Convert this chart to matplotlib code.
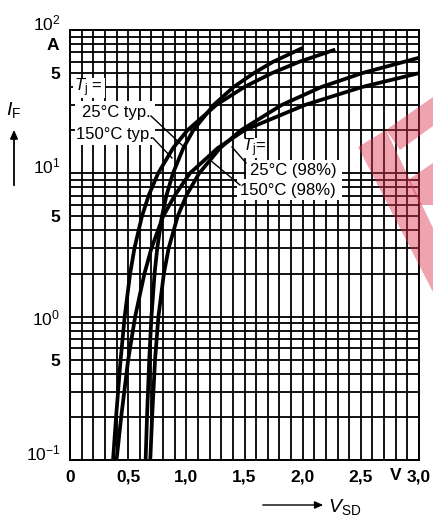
import matplotlib
matplotlib.use("Agg")
import matplotlib.pyplot as plt
import matplotlib.transforms as mtransforms
from matplotlib.patches import Polygon, FancyArrowPatch, Rectangle

# ---------- data ----------
i_25_typ = [0.1, 0.2, 0.5, 1, 2, 3, 5, 7, 10, 15, 20, 30, 40, 50, 60, 75]
v_25_typ = [0.65, 0.662, 0.681, 0.70, 0.727, 0.75, 0.79, 0.829, 0.885, 0.974, 1.06,
            1.235, 1.406, 1.58, 1.745, 2.0]

i_150_typ = [0.1, 0.2, 0.5, 1, 2, 3, 5, 7, 10, 15, 20, 30, 40, 50, 60, 73]
v_150_typ = [0.37, 0.396, 0.435, 0.47, 0.517, 0.554, 0.618, 0.676, 0.757, 0.886, 1.01,
             1.257, 1.498, 1.735, 1.97, 2.28]

i_25_98 = [0.1, 0.2, 0.5, 1, 2, 3, 5, 7, 10, 15, 20, 30, 40, 50, 64]
v_25_98 = [0.69, 0.706, 0.731, 0.76, 0.807, 0.848, 0.925, 1.0, 1.11, 1.29, 1.47,
           1.82, 2.16, 2.51, 3.0]

i_150_98 = [0.1, 0.2, 0.5, 1, 2, 3, 5, 7, 10, 15, 20, 30, 40, 50]
v_150_98 = [0.40, 0.44, 0.50, 0.56, 0.64, 0.70, 0.80, 0.90, 1.03, 1.27, 1.50,
            2.02, 2.51, 3.0]

x_ticks = [0, 0.5, 1.0, 1.5, 2.0, 2.5, 3.0]
x_labels = ["0", "0,5", "1,0", "1,5", "2,0", "2,5", "3,0"]
y_ticks = [0.1, 0.5, 1, 5, 10, 50, 100]
y_labels = [r"$10^{-1}$", "5", r"$10^{0}$", "5", r"$10^{1}$", "5", r"$10^{2}$"]

plt.rcParams["font.family"] = ["Liberation Sans", "DejaVu Sans"]
plt.rcParams["mathtext.fontset"] = "custom"
plt.rcParams["mathtext.rm"] = "Liberation Sans"
plt.rcParams["mathtext.it"] = "Liberation Sans:italic"
plt.rcParams["mathtext.bf"] = "Liberation Sans:bold"

W, H = 433, 525
X0, X1, Y0, Y1 = 70, 419, 30, 460   # plot box in image pixels


def ax_pos(x, y):
    """image pixel -> axes fraction"""
    return (x - X0) / (X1 - X0), (Y1 - y) / (Y1 - Y0)


def fig_pos(x, y):
    return x / W, 1 - y / H


def blank(ax, x_a, y_a, x_b, y_b):
    """white patch that hides the grid behind the labels (image pixel corners)"""
    (u0, v0), (u1, v1) = ax_pos(x_a, y_b), ax_pos(x_b, y_a)
    ax.add_patch(Rectangle((u0, v0), u1 - u0, v1 - v0, transform=ax.transAxes,
                           facecolor="white", edgecolor="none", zorder=3))


fig = plt.figure(figsize=(W / 100, H / 100), dpi=100)
ax = fig.add_axes([X0 / W, 1 - Y1 / H, (X1 - X0) / W, (Y1 - Y0) / H])

ax.set_yscale("log")
ax.set_xlim(0, 3.0)
ax.set_ylim(0.1, 100)

# grid: 0.1 V verticals, 1..9 per decade horizontals
ax.set_xticks(x_ticks)
ax.set_xticklabels(x_labels)
ax.set_xticks([k / 10 for k in range(31)], minor=True)
ax.set_yticks(y_ticks)
ax.set_yticklabels(y_labels)
ax.set_yticks([m * 10.0 ** e for e in (-1, 0, 1) for m in range(1, 10)] + [100], minor=True)
ax.yaxis.set_minor_formatter(matplotlib.ticker.NullFormatter())
ax.grid(True, which="both", color="black", linewidth=1.3)
ax.tick_params(which="both", length=0, labelsize=12.5, pad=7)
for lbl in ax.get_xticklabels() + ax.get_yticklabels():
    lbl.set_fontweight("bold")
for sp in ax.spines.values():
    sp.set_linewidth(1.4)
    sp.set_zorder(7)

# nudge the power-of-ten labels up a bit, like the print
up = mtransforms.ScaledTranslation(0, 6 / 72, fig.dpi_scale_trans)
for lbl, t in zip(ax.get_yticklabels(), y_ticks):
    if t in (0.1, 10, 100):
        lbl.set_transform(lbl.get_transform() + up)

# curves
for v, i in [(v_25_typ, i_25_typ), (v_150_typ, i_150_typ),
             (v_25_98, i_25_98), (v_150_98, i_150_98)]:
    ax.plot(v, i, color="black", linewidth=2.7, solid_capstyle="butt", zorder=4)

# unit labels
ax.text(-0.03, 78, "A", transform=mtransforms.blended_transform_factory(ax.transAxes, ax.transData),
        ha="right", va="center", fontsize=12.5, fontweight="bold")
ax.text(2.8, -0.037, "V", transform=mtransforms.blended_transform_factory(ax.transData, ax.transAxes),
        ha="center", va="center", fontsize=12.5, fontweight="bold")

txt = dict(transform=ax.transAxes, fontsize=12, va="center", ha="left", zorder=6)

# left annotation group
blank(ax, 73, 78, 105, 98)
blank(ax, 75, 101, 155, 145)
ax.text(*ax_pos(74, 88), r"$T_\mathrm{j}$ =", **txt)
ax.text(*ax_pos(82, 113), "25°C typ.", **txt)
ax.text(*ax_pos(76, 135), "150°C typ.", **txt)
for (xa, ya), (xb, yb) in [((151, 116), (184, 147)), ((153, 138), (172, 158))]:
    ax.plot(*zip(ax_pos(xa, ya), ax_pos(xb, yb)), transform=ax.transAxes,
            color="black", linewidth=1.0, zorder=5)

# right annotation group
blank(ax, 240, 138, 266, 158)
blank(ax, 246, 160, 342, 179)
blank(ax, 237, 179, 342, 200)
ax.text(*ax_pos(242, 148), r"$T_\mathrm{j}$=", **txt)
ax.text(*ax_pos(250, 170), "25°C (98%)", **txt)
ax.text(*ax_pos(240, 190), "150°C (98%)", **txt)
for (xa, ya), (xb, yb) in [((246, 163), (232, 147)), ((240, 185), (210, 160))]:
    ax.plot(*zip(ax_pos(xa, ya), ax_pos(xb, yb)), transform=ax.transAxes,
            color="black", linewidth=1.0, zorder=5)

# axis titles with arrows
fig.text(*fig_pos(14, 110), r"$I_\mathrm{F}$", ha="center", va="center", fontsize=14)
fig.add_artist(FancyArrowPatch(
    fig_pos(14, 188), fig_pos(14, 127), transform=fig.transFigure,
    arrowstyle="-|>,head_length=5,head_width=2.2", color="black", linewidth=1.3))
fig.text(*fig_pos(328, 507), r"$V_\mathrm{SD}$", ha="left", va="center", fontsize=14)
fig.add_artist(FancyArrowPatch(
    fig_pos(260, 505), fig_pos(326, 505), transform=fig.transFigure,
    arrowstyle="-|>,head_length=5,head_width=2.2", color="black", linewidth=1.0))

# faint red watermark on the right
for pts in [
    [(358, 147), (386, 130), (433, 228), (433, 292)],
    [(386, 130), (433, 97), (433, 126), (400, 150)],
    [(408, 180), (433, 163), (433, 205), (420, 205)],
]:
    fig.add_artist(Polygon([fig_pos(*p) for p in pts], closed=True, transform=fig.transFigure,
                           facecolor=(0.86, 0.2, 0.3), alpha=0.45, edgecolor="none", zorder=10))

fig.savefig("out.png", dpi=100)
